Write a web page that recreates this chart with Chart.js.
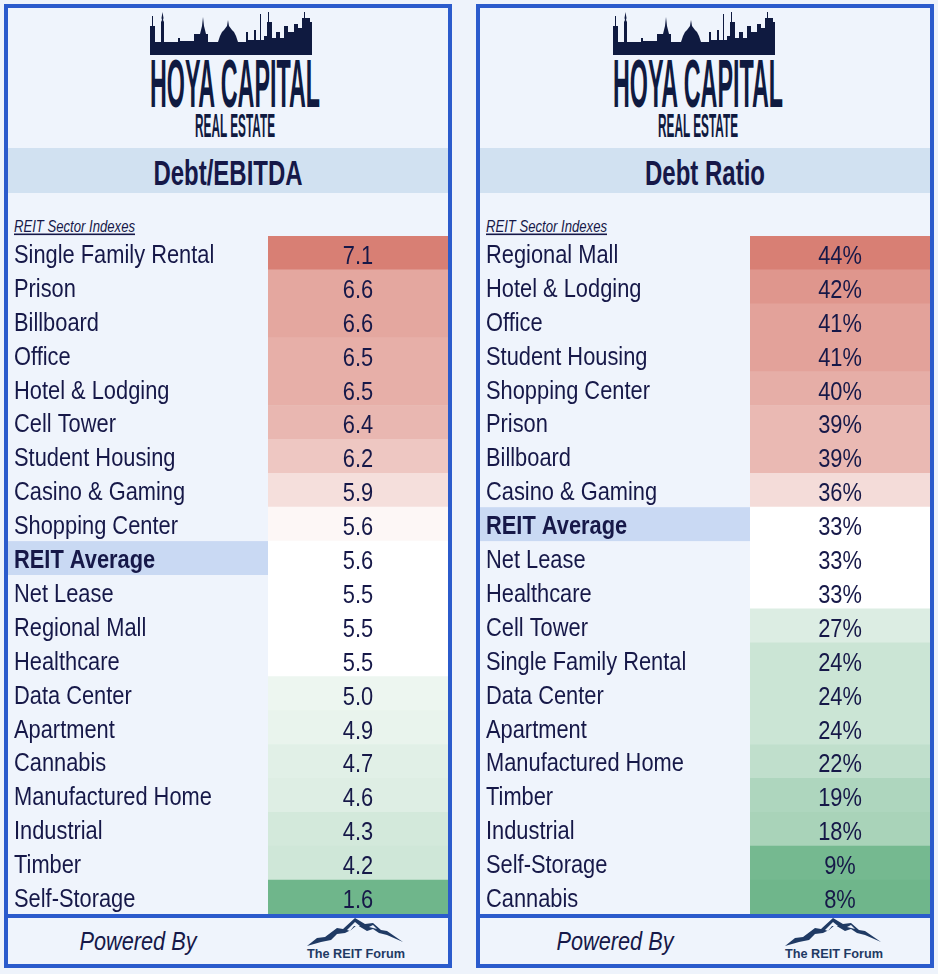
<!DOCTYPE html>
<html>
<head>
<meta charset="utf-8">
<script src="https://cdn.jsdelivr.net/npm/chart.js@4.4.1/dist/chart.umd.min.js"></script>
<style>
  body { margin: 0; width: 938px; height: 974px; background: #eef3fb; position: relative; overflow: hidden; }
  .panel { position: absolute; top: 4px; height: 964px; box-sizing: border-box; border: 4px solid #2b5bcc; background: #eff4fc; }
  #p1 { left: 4px; width: 448px; }
  #p2 { left: 476px; width: 458px; }
  .head { position: absolute; left: 0; top: 0; }
  .rows { position: absolute; left: 0; top: 228px; }
  .foot { position: absolute; left: 0; top: 906px; border-top: 4px solid #2b5bcc; }
  svg text { font-family: "Liberation Sans", Arial, sans-serif; }
</style>
</head>
<body>

<div class="panel" id="p1">
  <svg class="head" id="h1" width="440" height="228"></svg>
  <canvas class="rows" id="debtChart" width="440" height="678"></canvas>
  <svg class="foot" id="f1" width="440" height="46"></svg>
</div>
<div class="panel" id="p2">
  <svg class="head" id="h2" width="450" height="228"></svg>
  <canvas class="rows" id="ratioChart" width="450" height="678"></canvas>
  <svg class="foot" id="f2" width="450" height="46"></svg>
</div>

<script>
const debtLabels = ["Single Family Rental", "Prison", "Billboard", "Office", "Hotel & Lodging",
  "Cell Tower", "Student Housing", "Casino & Gaming", "Shopping Center", "REIT Average",
  "Net Lease", "Regional Mall", "Healthcare", "Data Center", "Apartment", "Cannabis",
  "Manufactured Home", "Industrial", "Timber", "Self-Storage"];
const debtValues = [7.1, 6.6, 6.6, 6.5, 6.5, 6.4, 6.2, 5.9, 5.6, 5.6,
  5.5, 5.5, 5.5, 5.0, 4.9, 4.7, 4.6, 4.3, 4.2, 1.6];

const ratioLabels = ["Regional Mall", "Hotel & Lodging", "Office", "Student Housing",
  "Shopping Center", "Prison", "Billboard", "Casino & Gaming", "REIT Average", "Net Lease",
  "Healthcare", "Cell Tower", "Single Family Rental", "Data Center", "Apartment",
  "Manufactured Home", "Timber", "Industrial", "Self-Storage", "Cannabis"];
const ratioValues = [44, 42, 41, 41, 40, 39, 39, 36, 33, 33,
  33, 27, 24, 24, 24, 22, 19, 18, 9, 8];

const navy = "#161848";
const SVGNS = "http://www.w3.org/2000/svg";
const squeeze = 0.84; // the sheet's font is narrower than Liberation Sans

// 3-colour scale like the spreadsheet: green (low) - white (median) - red (high)
function scaleColor(v, lo, mid, hi) {
  const white = [255, 255, 255], red = [216, 127, 116], green = [111, 182, 139];
  let t, c;
  if (v >= mid) { t = hi === mid ? 0 : (v - mid) / (hi - mid); c = red; }
  else { t = (mid - v) / (mid - lo); c = green; }
  const m = white.map((w, k) => Math.round(w + (c[k] - w) * t));
  return `rgb(${m[0]},${m[1]},${m[2]})`;
}

function narrowText(ctx, text, x, y, font, align) {
  ctx.save();
  ctx.translate(x, y);
  ctx.scale(squeeze, 1);
  ctx.font = font;
  ctx.textAlign = align;
  ctx.textBaseline = "alphabetic";
  ctx.fillStyle = navy;
  ctx.fillText(text, 0, 0);
  ctx.restore();
}

const cellPlugin = {
  id: "cells",
  beforeDraw(chart) {
    const { ctx, chartArea, scales: { y } } = chart;
    const i = chart.data.labels.indexOf("REIT Average");
    if (i < 0) return;
    const h = (chartArea.bottom - chartArea.top) / chart.data.labels.length;
    const yc = y.getPixelForValue(i);
    ctx.save();
    ctx.fillStyle = "#c9d9f3";
    ctx.fillRect(0, yc - h / 2, chartArea.left, h);
    ctx.restore();
  },
  afterDatasetsDraw(chart) {
    const { ctx, scales: { y } } = chart;
    const ds = chart.data.datasets[0];
    chart.data.labels.forEach((lab, i) => {
      const bold = lab === "REIT Average" ? "bold " : "";
      narrowText(ctx, lab, 6, y.getPixelForValue(i) + 10, bold + '26px "Liberation Sans"', "left");
    });
    chart.getDatasetMeta(0).data.forEach((bar, i) => {
      narrowText(ctx, ds.valueText[i], (bar.x + bar.base) / 2, bar.y + 11, '26px "Liberation Sans"', "center");
    });
  }
};

function makeTable(id, labels, values, fmt, labelWidth) {
  const sectors = values.filter((v, i) => labels[i] !== "REIT Average");
  const sorted = sectors.slice().sort((a, b) => a - b);
  const lo = sorted[0], hi = sorted[sorted.length - 1];
  const mid = sorted[Math.floor(sorted.length / 2)];
  const colors = values.map((v, i) =>
    labels[i] === "REIT Average" ? "#ffffff" : scaleColor(v, lo, mid, hi));

  return new Chart(document.getElementById(id), {
    type: "bar",
    data: {
      labels,
      datasets: [{
        // every cell spans the whole value column; the value shows as colour + text
        data: values.map(() => 1),
        valueText: values.map(fmt),
        backgroundColor: colors,
        borderWidth: 0,
        barPercentage: 1,
        categoryPercentage: 1
      }]
    },
    options: {
      indexAxis: "y",
      responsive: false,
      animation: false,
      events: [],
      layout: { padding: 0 },
      plugins: { legend: { display: false }, tooltip: { enabled: false } },
      scales: {
        x: { display: false, min: 0, max: 1 },
        y: {
          grid: { display: false },
          border: { display: false },
          ticks: { display: false },
          afterFit(scale) {
            scale.width = labelWidth;
            scale.paddingTop = 0;
            scale.paddingBottom = 0;
          }
        }
      }
    },
    plugins: [cellPlugin]
  });
}

makeTable("debtChart", debtLabels, debtValues, v => v.toFixed(1), 260);
makeTable("ratioChart", ratioLabels, ratioValues, v => v + "%", 270);

// ---- header / footer decorations ----
function el(parent, tag, attrs, text) {
  const e = document.createElementNS(SVGNS, tag);
  for (const k in attrs) e.setAttribute(k, attrs[k]);
  if (text) e.textContent = text;
  parent.appendChild(e);
  return e;
}

const skyline = "M0,43 L0,14 L2,14 L2,4 L3,4 L3,14 L5,14 L5,30 L11,30 L11,10 L12,8 L11.5,6 L12.5,0 " +
  "L13.5,6 L13,8 L14,10 L14,30 L28,30 L28,26 L30,26 L30,29 L44,29 L44,22 L50,22 L52,14 L53,5 L54,14 " +
  "L56,22 L58,22 L58,30 L68,30 L70,24 L72,20 L74,18 L77,14 L78,8 L79,14 L82,18 L84,20 L86,24 L88,30 " +
  "L96,30 L96,20 L98,20 L98,28 L104,28 L104,18 L106,18 L106,28 L110,28 L110,2 L111,2 L111,28 L114,28 " +
  "L114,24 L117,24 L117,10 L118,10 L118,0 L119,0 L119,10 L122,10 L122,26 L126,26 L126,20 L130,20 " +
  "L130,26 L134,26 L134,14 L138,14 L138,20 L144,20 L144,12 L148,12 L148,16 L152,16 L152,6 L154,6 " +
  "L154,0 L155,0 L155,6 L160,6 L160,10 L162,10 L162,43 Z";

function drawHeader(id, w, logoX, title, titleX, titleW) {
  const s = document.getElementById(id);
  el(s, "path", { d: skyline, fill: "#0f1a40", transform: `translate(${logoX},4)` });
  el(s, "text", { x: logoX, y: 99, "font-size": 68, "font-weight": "bold", fill: "#0f1a40",
    textLength: 170, lengthAdjust: "spacingAndGlyphs" }, "HOYA CAPITAL");
  el(s, "text", { x: logoX + 45, y: 129, "font-size": 34, "font-weight": "bold", fill: "#0f1a40",
    textLength: 80, lengthAdjust: "spacingAndGlyphs" }, "REAL ESTATE");
  el(s, "rect", { x: 0, y: 140, width: w, height: 45, fill: "#d1e1f1" });
  el(s, "text", { x: titleX, y: 177, "font-size": 35, "font-weight": "bold", fill: navy,
    "text-anchor": "middle", textLength: titleW, lengthAdjust: "spacingAndGlyphs" }, title);
  el(s, "text", { x: 6, y: 224, "font-size": 16, "font-style": "italic", fill: navy,
    textLength: 121, lengthAdjust: "spacingAndGlyphs" }, "REIT Sector Indexes");
  el(s, "rect", { x: 6, y: 225.5, width: 121, height: 1.6, fill: navy });
}

function drawFooter(id, poweredX, logoX) {
  const s = document.getElementById(id);
  el(s, "text", { x: poweredX, y: 32, "font-size": 25, "font-style": "italic", fill: navy,
    "text-anchor": "middle", textLength: 117, lengthAdjust: "spacingAndGlyphs" }, "Powered By");
  el(s, "path", { fill: "#1f3a64", transform: `translate(${logoX},0)`,
    d: "M0,28 L10,20 L18,19 L30,10 L36,11 L48,0 L58,6 L66,5 L74,12 L80,13 L96,24 L80,17 L72,15 L66,11 " +
       "L60,13 L50,7 L44,12 L38,15 L30,16 L24,22 L14,24 Z" });
  el(s, "path", { fill: "#eff4fc", transform: `translate(${logoX},0)`,
    d: "M40,12 L48,4 L53,8 L47,8 L43,13 Z M62,9 L66,7 L70,11 L66,10 Z" });
  el(s, "text", { x: logoX + 49, y: 40, "font-size": 13.5, "font-weight": "bold", fill: "#1f3a64",
    "text-anchor": "middle", textLength: 98, lengthAdjust: "spacingAndGlyphs" }, "The REIT Forum");
}

drawHeader("h1", 440, 142, "Debt/EBITDA", 220, 149);
drawHeader("h2", 450, 133, "Debt Ratio", 225, 120);
drawFooter("f1", 130, 299);
drawFooter("f2", 135, 305);
</script>
</body>
</html>
